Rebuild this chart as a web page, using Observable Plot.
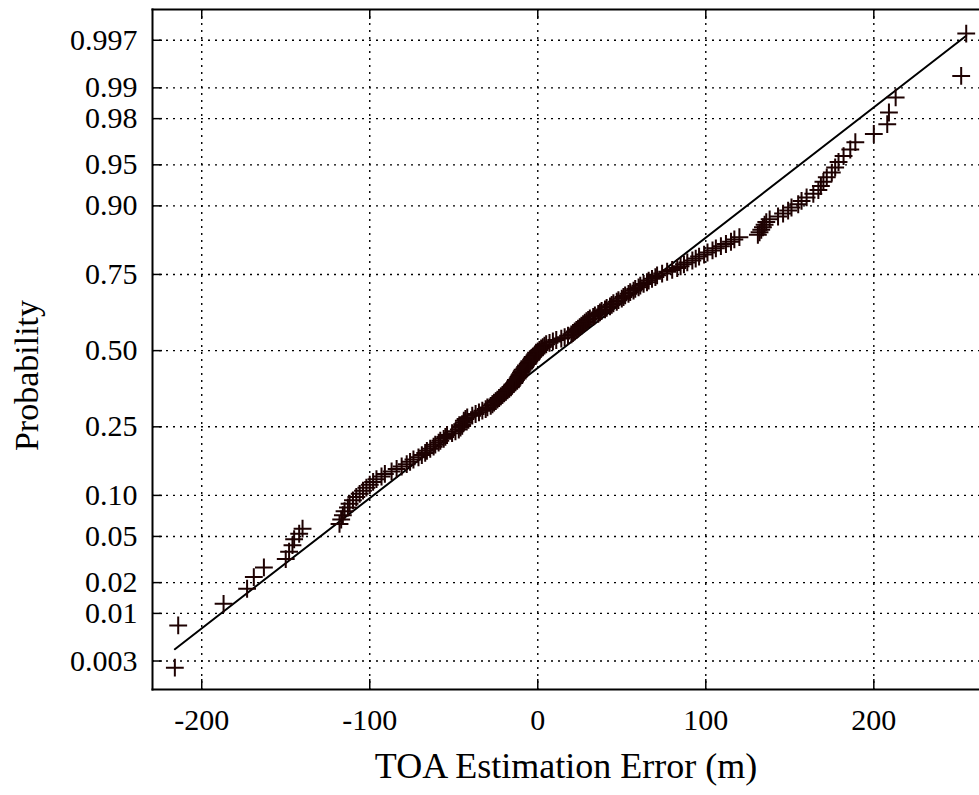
<!DOCTYPE html>
<html>
<head>
<meta charset="utf-8">
<script src="https://cdn.jsdelivr.net/npm/d3@7"></script>
<script src="https://cdn.jsdelivr.net/npm/@observablehq/plot@0.6"></script>
<style>
  html, body { margin: 0; padding: 0; background: #fff; }
  #chart svg { display: block; }
</style>
</head>
<body>
<div id="chart"></div>
<script>
// TOA estimation errors (m) (sorted)
const errors = [
  -216, -214, -187, -173, -169, -163, -150, -148, -146, -145,
  -142, -140, -118, -117, -116, -115, -113, -112, -110, -108,
  -106, -104, -102, -100, -98, -96, -93, -91, -87, -84,
  -81, -78, -76, -74, -71, -69, -67, -66, -64, -62,
  -61, -59, -58, -56, -55, -54, -51, -49, -47, -46,
  -45, -45, -44, -44, -43, -42, -39, -37, -35, -33,
  -31, -30, -28, -27, -26, -25, -24, -23, -22, -21,
  -20, -19, -18, -17, -16, -15.5, -15, -14, -13.5, -13,
  -12, -11.5, -11, -10.5, -10, -9.5, -9, -8, -7.5, -7,
  -6, -5.5, -5, -4, -3.5, -3, -2, -1.5, -1, 0,
  1, 2, 3, 4, 5, 7, 9, 11, 14, 16,
  18, 20, 21, 22, 23, 24, 25, 26, 27, 28,
  29, 30, 31, 33, 34, 36, 37, 38, 40, 41,
  43, 44, 45, 47, 48, 50, 51, 52, 54, 55,
  57, 58, 60, 61, 63, 65, 66, 68, 70, 71,
  74, 77, 80, 83, 85, 87, 89, 92, 94, 96,
  99, 101, 104, 106, 109, 112, 115, 117, 120, 131,
  132, 133, 134, 135, 136, 138, 143, 146, 149, 151,
  155, 157, 160, 164, 167, 168.5, 170, 172, 175, 177,
  179, 182, 186, 189, 200, 208, 209, 213, 252, 255
];
const probTicks = [0.003, 0.01, 0.02, 0.05, 0.10, 0.25, 0.50, 0.75, 0.90, 0.95, 0.98, 0.99, 0.997];
const probTickLabels = ["0.003", "0.01", "0.02", "0.05", "0.10", "0.25", "0.50", "0.75", "0.90", "0.95", "0.98", "0.99", "0.997"];
const xTicks = [-200, -100, 0, 100, 200];
const xTickLabels = ["-200", "-100", "0", "100", "200"];
const xLabel = "TOA Estimation Error (m)";
const yLabel = "Probability";

// inverse standard normal CDF (Acklam)
function probit(p) {
  const a = [-3.969683028665376e+01, 2.209460984245205e+02, -2.759285104469687e+02, 1.383577518672690e+02, -3.066479806614716e+01, 2.506628277459239e+00];
  const b = [-5.447609879822406e+01, 1.615858368580409e+02, -1.556989798598866e+02, 6.680131188771972e+01, -1.328068155288572e+01];
  const c = [-7.784894002430293e-03, -3.223964580411365e-01, -2.400758277161838e+00, -2.549671010115938e+00, 4.374664141464968e+00, 2.938163982698783e+00];
  const d = [7.784695709041462e-03, 3.224671290700398e-01, 2.445134137142996e+00, 3.754408661907416e+00];
  const plow = 0.02425, phigh = 1 - plow;
  let q, r;
  if (p < plow) {
    q = Math.sqrt(-2 * Math.log(p));
    return (((((c[0]*q+c[1])*q+c[2])*q+c[3])*q+c[4])*q+c[5]) / ((((d[0]*q+d[1])*q+d[2])*q+d[3])*q+1);
  } else if (p <= phigh) {
    q = p - 0.5; r = q * q;
    return (((((a[0]*r+a[1])*r+a[2])*r+a[3])*r+a[4])*r+a[5])*q / (((((b[0]*r+b[1])*r+b[2])*r+b[3])*r+b[4])*r+1);
  } else {
    q = Math.sqrt(-2 * Math.log(1 - p));
    return -(((((c[0]*q+c[1])*q+c[2])*q+c[3])*q+c[4])*q+c[5]) / ((((d[0]*q+d[1])*q+d[2])*q+d[3])*q+1);
  }
}

const sorted = errors.slice().sort(d3.ascending);
const n = sorted.length;
const points = sorted.map((x, i) => ({x, z: probit((i + 0.5) / n)}));
// reference line through the 1st and 3rd quartiles, spanning the data range
const q1 = d3.quantile(sorted, 0.25), q3 = d3.quantile(sorted, 0.75);
const z1 = probit(0.25), z3 = probit(0.75);
const slope = (z3 - z1) / (q3 - q1);
const fitLine = [sorted[0], sorted[n - 1]].map(x => ({x, z: z1 + slope * (x - q1)}));
const zTicks = probTicks.map(probit);
const zLabel = new Map(zTicks.map((z, i) => [z, probTickLabels[i]]));
const xLab = new Map(xTicks.map((x, i) => [x, xTickLabels[i]]));

const W = 979, H = 795, mL = 152, mR = 0, mT = 9, mB = 106;
const frameW = W - mL - mR, frameH = H - mT - mB;
const tickLen = 10;
const grid = {stroke: "#000", strokeWidth: 1.4, strokeDasharray: "2,5"};
const axisLine = {stroke: "#000", strokeWidth: 2};

const chart = Plot.plot({
  width: W, height: H,
  marginLeft: mL, marginRight: mR, marginTop: mT, marginBottom: mB,
  style: {fontFamily: "'Liberation Serif', 'Times New Roman', serif", color: "#000", background: "#fff"},
  x: {domain: [-229.3, 262.9]},
  y: {domain: [-3.0, 3.02]},
  marks: [
    Plot.ruleX(xTicks, grid),
    Plot.ruleY(zTicks, grid),
    Plot.line(fitLine, {x: "x", y: "z", stroke: "#000", strokeWidth: 2}),
    Plot.dot(points, {x: "x", y: "z", symbol: "plus", r: 5.8, stroke: "#1e0202", strokeWidth: 2}),
    Plot.ruleX(xTicks, {insetTop: frameH - tickLen, stroke: "#000", strokeWidth: 1.5}),
    Plot.ruleX(xTicks, {insetBottom: frameH - tickLen, stroke: "#000", strokeWidth: 1.5}),
    Plot.ruleY(zTicks, {insetRight: frameW - tickLen, stroke: "#000", strokeWidth: 1.5}),
    Plot.axisX(xTicks, {tickSize: 0, tickPadding: 19, fontSize: 30, tickFormat: d => xLab.get(d), label: null}),
    Plot.axisY(zTicks, {tickSize: 0, tickPadding: 15, fontSize: 30, tickFormat: d => zLabel.get(d), label: null}),
    Plot.text([xLabel], {text: d => d, frameAnchor: "bottom", dy: 77, fontSize: 36, lineAnchor: "middle", textAnchor: "middle", fill: "#000"}),
    Plot.text([yLabel], {text: d => d, frameAnchor: "left", dx: -125, dy: 26, rotate: -90, fontSize: 34, textAnchor: "middle", lineAnchor: "middle", fill: "#000"}),
    Plot.frame({anchor: "top", ...axisLine}),
    Plot.frame({anchor: "left", ...axisLine}),
    Plot.frame({anchor: "bottom", ...axisLine})
  ]
});
document.getElementById("chart").appendChild(chart);
</script>
</body>
</html>
